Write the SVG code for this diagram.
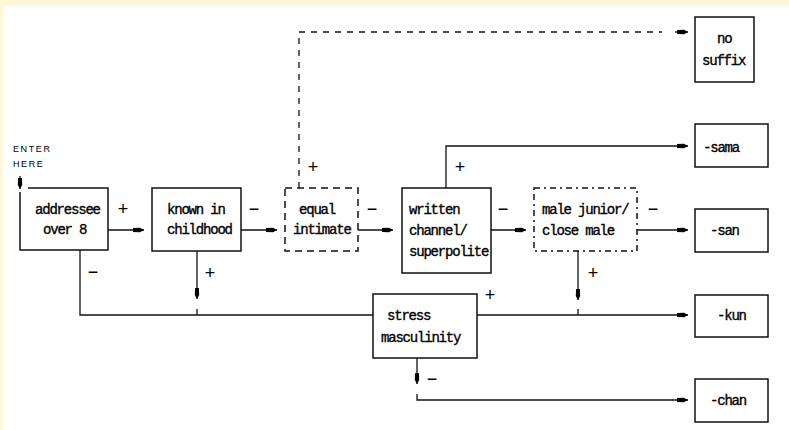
<svg xmlns="http://www.w3.org/2000/svg" width="789" height="430" viewBox="0 0 789 430">
<style>
.box{fill:#fff;stroke:#111;stroke-width:1.5}
.dash{fill:#fff;stroke:#111;stroke-width:1.5;stroke-dasharray:7 5}
.dashdot{fill:#fff;stroke:#111;stroke-width:1.5;stroke-dasharray:6 4 2 4}
.t{font-family:"Liberation Mono","DejaVu Sans Mono",monospace;font-size:14px;letter-spacing:-1.2px;fill:#000;stroke:#000;stroke-width:0.35}
.s{font-family:"Liberation Sans",Arial,sans-serif;font-size:18px;fill:#000;text-anchor:middle}
.enter{font-family:"Liberation Sans",Arial,sans-serif;font-size:9px;letter-spacing:1.6px;fill:#000}
.ln{fill:none;stroke:#111;stroke-width:1.3}
.dl{fill:none;stroke:#111;stroke-width:1.3;stroke-dasharray:6 6}
</style>
<defs>
<marker id="ah" markerUnits="userSpaceOnUse" markerWidth="12" markerHeight="8" refX="11" refY="4" orient="auto" viewBox="0 0 12 8">
<path d="M0,2.1 L7,1.8 L11,4 L7,6.2 L0,5.9 Z" fill="#000"/>
</marker>
</defs>
<rect x="0" y="0" width="789" height="430" fill="#fff"/>
<rect x="0" y="0" width="789" height="6" fill="#fff7d6"/>
<rect x="0" y="0" width="3" height="430" fill="#fff7d6"/>

<g id="connectors">
<path class="ln" d="M20,176 V189" marker-end="url(#ah)"/>
<path class="ln" d="M108,230 H144" marker-end="url(#ah)"/>
<path class="ln" d="M241,230 H277" marker-end="url(#ah)"/>
<path class="ln" d="M358,230 H393" marker-end="url(#ah)"/>
<path class="ln" d="M491,230 H526" marker-end="url(#ah)"/>
<path class="ln" d="M637,230 H688" marker-end="url(#ah)"/>
<path class="ln" d="M446,188 V146 H688" marker-end="url(#ah)"/>
<path class="dl" d="M299,188 V32 H662"/>
<path class="ln" d="M675,32 H688" marker-end="url(#ah)"/>
<path class="ln" d="M80,250 V315 H373"/>
<path class="ln" d="M197,251 V299" marker-end="url(#ah)"/>
<path class="ln" d="M197,309 V315"/>
<path class="ln" d="M578,251 V300" marker-end="url(#ah)"/>
<path class="ln" d="M578,309 V315"/>
<path class="ln" d="M477,315 H688" marker-end="url(#ah)"/>
<path class="ln" d="M417,358 V384" marker-end="url(#ah)"/>
<path class="ln" d="M417,394 V400 H688" marker-end="url(#ah)"/>
<text class="s" x="123" y="215">+</text>
<text class="s" x="254" y="215">−</text>
<text class="s" x="372" y="215">−</text>
<text class="s" x="503" y="215">−</text>
<text class="s" x="653" y="215">−</text>
<text class="s" x="93" y="278">−</text>
<text class="s" x="210" y="279">+</text>
<text class="s" x="593" y="279">+</text>
<text class="s" x="313" y="173">+</text>
<text class="s" x="460" y="173">+</text>
<text class="s" x="490" y="301">+</text>
<text class="s" x="432" y="385">−</text>
</g>

<g id="enter">
<text class="enter" x="13" y="152">ENTER</text>
<text class="enter" x="13" y="167">HERE</text>
</g>

<g id="addressee">
<path class="ln" style="stroke-width:1.5" d="M28,188 H108 V250 H20 V192"/>
<text class="t" x="35" y="214">addressee</text>
<text class="t" x="43" y="234">over 8</text>
</g>

<g id="childhood">
<rect class="box" x="152" y="188" width="89" height="63"/>
<text class="t" x="167" y="214">known in</text>
<text class="t" x="167" y="234">childhood</text>
</g>

<g id="intimate">
<rect class="dash" x="285" y="188" width="73" height="63"/>
<text class="t" x="299" y="214">equal</text>
<text class="t" x="293" y="234">intimate</text>
</g>

<g id="written">
<rect class="box" x="402" y="188" width="89" height="85"/>
<text class="t" x="409" y="214">written</text>
<text class="t" x="409" y="235">channel/</text>
<text class="t" x="409" y="256">superpolite</text>
</g>

<g id="male">
<rect class="dashdot" x="534" y="188" width="103" height="63"/>
<text class="t" x="542" y="214">male junior/</text>
<text class="t" x="542" y="235">close male</text>
</g>

<g id="stress">
<rect class="box" x="373" y="294" width="104" height="64"/>
<text class="t" x="387" y="320">stress</text>
<text class="t" x="381" y="342">masculinity</text>
</g>

<g id="nosuffix">
<rect class="box" x="695" y="17" width="59" height="65"/>
<text class="t" x="717" y="43">no</text>
<text class="t" x="702" y="65">suffix</text>
</g>

<g id="sama">
<rect class="box" x="695" y="124" width="73" height="43"/>
<text class="t" x="703" y="152">-sama</text>
</g>

<g id="san">
<rect class="box" x="695" y="209" width="73" height="43"/>
<text class="t" x="710" y="235">-san</text>
</g>

<g id="kun">
<rect class="box" x="695" y="295" width="73" height="42"/>
<text class="t" x="717" y="320">-kun</text>
</g>

<g id="chan">
<rect class="box" x="695" y="379" width="73" height="43"/>
<text class="t" x="710" y="405">-chan</text>
</g>
</svg>
